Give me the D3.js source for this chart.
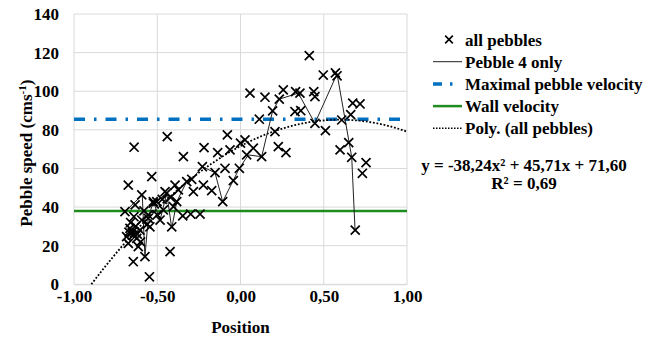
<!DOCTYPE html>
<html>
<head>
<meta charset="utf-8">
<script src="https://cdn.jsdelivr.net/npm/d3@7"></script>
<style>
  body { margin: 0; background: #fff; }
  svg text { font-family: "Liberation Serif", "DejaVu Serif", serif !important; font-weight: bold; fill: #000; }
</style>
</head>
<body>
<svg id="chart" width="662" height="337"></svg>
<script>
// all pebbles: [position, speed]
const allPebbles = [
  [0.413,118.4],[0.497,108.4],[0.570,109.5],[0.580,108.0],[0.440,99.8],[0.447,97.2],
  [0.674,93.8],[0.718,93.4],[0.662,87.9],[0.608,85.1],[0.447,83.4],[0.510,79.6],
  [0.650,73.4],[0.598,69.6],[0.668,65.8],[0.754,63.0],[0.732,57.5],[0.689,28.1],
  [0.057,99.0],[0.147,96.9],[0.257,100.7],[0.331,99.8],[0.357,99.0],[0.233,95.9],
  [0.193,89.8],[0.327,89.4],[0.362,89.9],[0.113,85.5],[0.207,79.1],[0.027,74.8],
  [0.000,73.1],[0.077,70.5],[0.227,71.3],[0.273,68.2],[0.037,67.0],[0.127,66.1],
  [-0.043,53.7],[-0.007,60.1],
  [-0.440,76.5],[-0.343,66.1],[-0.219,70.8],[-0.137,68.2],[-0.079,77.4],[-0.063,69.6],
  [-0.229,60.9],[-0.153,57.8],[-0.093,60.1],[-0.293,54.4],[-0.223,51.4],[-0.283,48.0],
  [-0.173,48.5],[-0.107,42.8],[-0.393,51.4],[-0.373,48.9],[-0.453,48.0],[-0.403,40.2],
  [-0.347,35.4],[-0.299,36.4],[-0.243,36.4],[-0.413,29.8],[-0.463,38.5],[-0.533,55.8],
  [-0.323,53.2],
  [-0.639,71.0],[-0.674,51.4],[-0.593,46.3],[-0.503,42.8],[-0.633,41.1],[-0.694,37.6],
  [-0.554,35.9],[-0.544,29.8],[-0.664,29.0],[-0.684,24.7],[-0.623,23.8],[-0.644,25.5],
  [-0.674,21.2],[-0.614,19.5],[-0.574,14.3],[-0.644,11.7],[-0.423,16.9],[-0.547,3.9],
  [-0.523,42.0],[-0.593,33.3],[-0.604,28.1],[-0.554,34.2],[-0.483,33.3],[-0.443,47.2],
  [-0.383,42.8],[-0.524,42.8],
  [-0.660,32.0],[-0.650,27.0],[-0.630,30.0],[-0.620,26.0],[-0.670,27.0],[-0.600,22.0],
  [-0.640,35.0],[-0.580,38.0],[-0.560,31.0],[-0.500,36.0],[-0.470,44.0],[-0.420,45.0]
];

// pebble 4 track
const pebble4 = [
  [-0.694,37.6],[-0.590,46.3],[-0.574,14.3],[-0.554,34.2],[-0.524,42.8],[-0.483,33.3],
  [-0.443,47.2],[-0.413,29.0],[-0.383,42.8],[-0.323,53.2],[-0.293,54.4],[-0.229,60.9],
  [-0.153,57.8],[-0.107,42.8],[-0.007,60.1],[0.047,67.0],[0.127,66.1],[0.193,89.8],
  [0.233,95.9],[0.347,99.0],[0.447,83.4],[0.580,109.0],[0.668,65.8],[0.688,28.1]
];

const maxPebbleVelocity = 85.5;
const wallVelocity = 38.0;
const polyCoef = [-38.24, 45.71, 71.60]; // a, b, c
const xTicks = [-1, -0.5, 0, 0.5, 1];
const yTicks = [0, 20, 40, 60, 80, 100, 120, 140];
const legendLabels = ['all pebbles', 'Pebble 4 only', 'Maximal pebble velocity', 'Wall velocity', 'Poly. (all pebbles)'];
const equationLines = ['y = -38,24x² + 45,71x + 71,60', 'R² = 0,69'];

const svg = d3.select('#chart');
const mLeft = 74, mRight = 407, mTop = 14, mBottom = 284.3;

const x = d3.scaleLinear().domain([-1, 1]).range([mLeft, mRight]);
const y = d3.scaleLinear().domain([0, 140]).range([mBottom, mTop]);
const fmt = v => d3.format('.2f')(v).replace('.', ',').replace('−', '-');

// grid
svg.append('g').selectAll('line').data(yTicks).enter().append('line')
  .attr('x1', mLeft).attr('x2', mRight)
  .attr('y1', d => y(d)).attr('y2', d => y(d))
  .attr('stroke', '#d9d9d9').attr('stroke-width', 1);
svg.append('g').selectAll('line').data(xTicks).enter().append('line')
  .attr('x1', d => x(d)).attr('x2', d => x(d))
  .attr('y1', mTop).attr('y2', mBottom)
  .attr('stroke', '#d9d9d9').attr('stroke-width', 1);

// axes (labels only)
const yAxis = svg.append('g').attr('transform', `translate(${mLeft},0)`)
  .call(d3.axisLeft(y).tickValues(yTicks).tickSize(0).tickPadding(15).tickFormat(d3.format('d')));
yAxis.select('.domain').remove();
yAxis.selectAll('text').attr('font-size', 17);

const xAxis = svg.append('g').attr('transform', `translate(0,${mBottom})`)
  .call(d3.axisBottom(x).tickValues(xTicks).tickSize(0).tickPadding(6).tickFormat(fmt));
xAxis.select('.domain').attr('stroke', '#d9d9d9');
xAxis.selectAll('text').attr('font-size', 17);

svg.append('text').attr('x', x(0)).attr('y', 333).attr('text-anchor', 'middle')
  .attr('font-size', 17).text('Position');
svg.append('text').attr('transform', `translate(32,${(mTop + mBottom) / 2 + 4}) rotate(-90)`)
  .attr('text-anchor', 'middle').attr('font-size', 17)
  .html('Pebble speed (cms<tspan font-size="11" dy="-6">-1</tspan><tspan dy="6">)</tspan>');

// reference lines
svg.append('line').attr('x1', mLeft).attr('x2', mRight)
  .attr('y1', y(maxPebbleVelocity)).attr('y2', y(maxPebbleVelocity))
  .attr('stroke', '#0070c0').attr('stroke-width', 3.5).attr('stroke-dasharray', '11,9,2.5,9');
svg.append('line').attr('x1', mLeft).attr('x2', mRight)
  .attr('y1', y(wallVelocity)).attr('y2', y(wallVelocity))
  .attr('stroke', '#1e8c1e').attr('stroke-width', 2.5);

// polynomial trend
const poly = v => polyCoef[0] * v * v + polyCoef[1] * v + polyCoef[2];
const x0 = (-polyCoef[1] + Math.sqrt(polyCoef[1] ** 2 - 4 * polyCoef[0] * polyCoef[2])) / (2 * polyCoef[0]);
const trend = d3.range(0, 101).map(i => x0 + (1 - x0) * i / 100);
svg.append('path').datum(trend)
  .attr('d', d3.line().x(d => x(d)).y(d => y(poly(d))))
  .attr('fill', 'none').attr('stroke', '#000').attr('stroke-width', 1.8).attr('stroke-dasharray', '1.8,1.8');

// pebble 4 line
svg.append('path').datum(pebble4)
  .attr('d', d3.line().x(d => x(d[0])).y(d => y(d[1])))
  .attr('fill', 'none').attr('stroke', '#222').attr('stroke-width', 1);

// markers
const cross = d3.symbol().type(d3.symbolX).size(55);
svg.append('g').selectAll('path').data(allPebbles).enter().append('path')
  .attr('transform', d => `translate(${x(d[0])},${y(d[1])})`)
  .attr('d', cross).attr('fill', 'none').attr('stroke', '#000').attr('stroke-width', 1.7);

// legend
const lg = svg.append('g');
const rowY = i => 39.5 + i * 22.2;
lg.append('path').attr('transform', `translate(449,${rowY(0)})`)
  .attr('d', d3.symbol().type(d3.symbolX).size(40)).attr('stroke', '#000').attr('stroke-width', 1.6);
lg.append('line').attr('x1', 433).attr('x2', 462).attr('y1', rowY(1)).attr('y2', rowY(1))
  .attr('stroke', '#222').attr('stroke-width', 1);
lg.append('line').attr('x1', 433).attr('x2', 462).attr('y1', rowY(2)).attr('y2', rowY(2))
  .attr('stroke', '#0070c0').attr('stroke-width', 3.5).attr('stroke-dasharray', '9,8,2.5,20');
lg.append('line').attr('x1', 433).attr('x2', 462).attr('y1', rowY(3)).attr('y2', rowY(3))
  .attr('stroke', '#1e8c1e').attr('stroke-width', 2.5);
lg.append('line').attr('x1', 433).attr('x2', 462).attr('y1', rowY(4)).attr('y2', rowY(4))
  .attr('stroke', '#000').attr('stroke-width', 1.5).attr('stroke-dasharray', '1.5,1.5');
lg.selectAll('text').data(legendLabels).enter().append('text')
  .attr('x', 465).attr('y', (d, i) => rowY(i) + 6).attr('font-size', 17).text(d => d);

svg.append('g').selectAll('text').data(equationLines).enter().append('text')
  .attr('x', 524).attr('y', (d, i) => 171 + i * 18).attr('text-anchor', 'middle')
  .attr('font-size', 17).text(d => d);
</script>
</body>
</html>
